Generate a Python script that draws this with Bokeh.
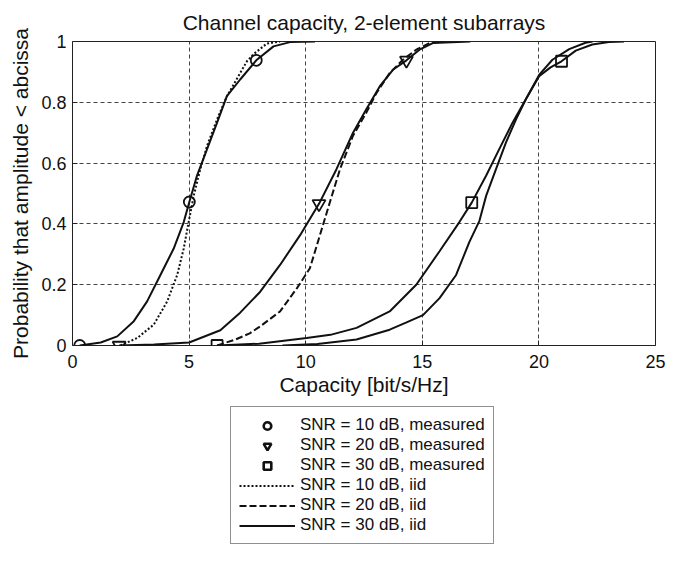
from bokeh.plotting import figure
from bokeh.layouts import column
from bokeh.models import Range1d, Legend, LegendItem, FixedTicker
from bokeh.embed import file_html
from bokeh.resources import INLINE

# ---------------- data ----------------
meas10_x = [0.31, 1.21, 1.92, 2.63, 3.2, 3.77, 4.34, 4.77, 5.01, 5.34, 5.77, 6.2, 6.62, 7.19, 7.88, 8.62, 9.33, 10.4]
meas10_y = [0.0, 0.01, 0.03, 0.08, 0.145, 0.232, 0.319, 0.406, 0.472, 0.559, 0.646, 0.733, 0.82, 0.875, 0.938, 0.984, 0.998, 1.0]

meas20_x = [2.0, 3.5, 5.0, 6.34, 7.19, 8.05, 8.9, 9.76, 10.57, 11.32, 12.03, 12.6, 13.18, 13.74, 14.32, 14.88, 15.45, 17.06]
meas20_y = [0.0, 0.003, 0.01, 0.05, 0.108, 0.177, 0.265, 0.363, 0.466, 0.58, 0.70, 0.777, 0.853, 0.907, 0.938, 0.973, 0.995, 1.0]

meas30_x = [6.2, 8.0, 10.04, 11.06, 12.18, 13.6, 14.74, 15.74, 16.59, 17.12, 17.74, 18.3, 18.87, 19.44, 20.01, 20.5, 20.97, 21.58, 22.29, 23.0, 23.65]
meas30_y = [0.0, 0.006, 0.025, 0.035, 0.058, 0.112, 0.2, 0.31, 0.406, 0.47, 0.559, 0.646, 0.733, 0.81, 0.886, 0.915, 0.935, 0.97, 0.99, 0.998, 1.0]

iid10_x = [2.06, 2.78, 3.49, 4.06, 4.49, 4.77, 4.98, 5.2, 5.48, 5.77, 6.2, 6.62, 7.19, 7.48, 7.76, 8.33, 8.9]
iid10_y = [0.0, 0.025, 0.069, 0.145, 0.232, 0.319, 0.406, 0.493, 0.58, 0.657, 0.744, 0.82, 0.896, 0.935, 0.958, 0.993, 1.0]

iid20_x = [6.2, 7.0, 7.6, 8.05, 8.9, 9.62, 10.18, 10.61, 11.04, 11.47, 12.03, 12.6, 13.03, 13.6, 14.17, 14.74, 15.31, 15.9]
iid20_y = [0.0, 0.02, 0.04, 0.063, 0.112, 0.188, 0.254, 0.363, 0.472, 0.58, 0.69, 0.766, 0.83, 0.896, 0.94, 0.973, 0.995, 1.0]

iid30_x = [9.0, 10.5, 12.18, 13.6, 14.3, 15.03, 15.74, 16.45, 17.02, 17.45, 17.74, 18.16, 18.59, 19.02, 19.44, 20.01, 20.58, 21.3, 22.0, 22.3]
iid30_y = [0.0, 0.005, 0.02, 0.052, 0.075, 0.1, 0.156, 0.232, 0.341, 0.41, 0.493, 0.58, 0.668, 0.744, 0.81, 0.89, 0.94, 0.975, 0.996, 1.0]

mark10_x = [0.31, 5.01, 7.88]
mark10_y = [0.0, 0.472, 0.938]
mark20_x = [2.0, 10.57, 14.32]
mark20_y = [0.0, 0.466, 0.938]
mark30_x = [6.2, 17.12, 20.97]
mark30_y = [0.0, 0.47, 0.935]

x_ticks = [0, 5, 10, 15, 20, 25]
y_ticks = [0, 0.2, 0.4, 0.6, 0.8, 1]
y_tick_labels = ["0", "0.2", "0.4", "0.6", "0.8", "1"]

labels = ["SNR = 10 dB, measured", "SNR = 20 dB, measured", "SNR = 30 dB, measured",
          "SNR = 10 dB, iid", "SNR = 20 dB, iid", "SNR = 30 dB, iid"]

# ---------------- styles ----------------
FONT = "Liberation Sans"
INK = "#111111"
LW = 2
DOT = "2 2"
DASH = "7 3"
MARK = dict(line_color=INK, line_width=1.8, fill_alpha=0)
LMARK = dict(line_color=INK, line_width=2.6, fill_alpha=0)

# ---------------- main figure ----------------
p = figure(frame_width=583, frame_height=304,
           min_border_left=72, min_border_right=20, min_border_top=41, min_border_bottom=50,
           x_range=Range1d(0, 25), y_range=Range1d(0, 1),
           output_backend="svg", toolbar_location=None,
           title="Channel capacity, 2-element subarrays")

p.title.align = "center"
p.title.text_font = FONT
p.title.text_font_size = "21px"
p.title.text_font_style = "normal"
p.title.text_color = INK
p.title.standoff = 16

p.outline_line_color = "#222222"
p.outline_line_width = 1

for ax in (p.xaxis[0], p.yaxis[0]):
    ax.axis_line_color = None
    ax.major_tick_in = 5
    ax.major_tick_out = 0
    ax.minor_tick_line_color = None
    ax.major_tick_line_color = "#222222"
    ax.major_label_text_font = FONT
    ax.major_label_text_font_size = "18px"
    ax.major_label_text_color = INK
    ax.axis_label_text_font = FONT
    ax.axis_label_text_font_size = "21px"
    ax.axis_label_text_font_style = "normal"
    ax.axis_label_text_color = INK

p.xaxis.ticker = FixedTicker(ticks=x_ticks)
p.yaxis.ticker = FixedTicker(ticks=y_ticks)
p.yaxis.major_label_overrides = {t: s for t, s in zip(y_ticks, y_tick_labels)}
p.xaxis.axis_label = "Capacity [bit/s/Hz]"
p.yaxis.axis_label = "Probability that amplitude < abcissa"
p.xaxis.major_label_standoff = 9
p.yaxis.major_label_standoff = 6
p.xaxis.axis_label_standoff = 2
p.yaxis.axis_label_standoff = 6

for g in (p.xgrid[0], p.ygrid[0]):
    g.grid_line_color = "#444444"
    g.grid_line_dash = "4 3"
    g.grid_line_width = 1

# measured curves (solid lines; markers go in the legend)
p.line(meas10_x, meas10_y, line_color=INK, line_width=LW)
p.line(meas20_x, meas20_y, line_color=INK, line_width=LW)
p.line(meas30_x, meas30_y, line_color=INK, line_width=LW)

# iid curves
p.line(iid10_x, iid10_y, line_color=INK, line_width=LW, line_dash=DOT)
p.line(iid20_x, iid20_y, line_color=INK, line_width=LW, line_dash=DASH)
p.line(iid30_x, iid30_y, line_color=INK, line_width=LW)

p.scatter(mark10_x, mark10_y, marker="circle", size=11, **MARK)
p.scatter(mark20_x, mark20_y, marker="inverted_triangle", size=13, **MARK)
p.scatter(mark30_x, mark30_y, marker="square", size=11, **MARK)

# ---------------- legend panel (below the plot) ----------------
# the same series are drawn here outside the visible range, only to feed the legend
q = figure(width=675, height=150, min_border=0,
           x_range=Range1d(100, 101), y_range=Range1d(100, 101),
           output_backend="svg", toolbar_location=None)
q.axis.visible = False
q.grid.visible = False
q.outline_line_color = None

lg_m10 = q.scatter(mark10_x, mark10_y, marker="circle", size=9, **LMARK)
lg_m20 = q.scatter(mark20_x, mark20_y, marker="inverted_triangle", size=11, **LMARK)
lg_m30 = q.scatter(mark30_x, mark30_y, marker="square", size=9, **LMARK)
lg_i10 = q.line(iid10_x, iid10_y, line_color=INK, line_width=LW, line_dash=DOT)
lg_i20 = q.line(iid20_x, iid20_y, line_color=INK, line_width=LW, line_dash=DASH)
lg_i30 = q.line(iid30_x, iid30_y, line_color=INK, line_width=LW)

legend = Legend(items=[
    LegendItem(label=labels[0], renderers=[lg_m10]),
    LegendItem(label=labels[1], renderers=[lg_m20]),
    LegendItem(label=labels[2], renderers=[lg_m30]),
    LegendItem(label=labels[3], renderers=[lg_i10]),
    LegendItem(label=labels[4], renderers=[lg_i20]),
    LegendItem(label=labels[5], renderers=[lg_i30]),
])
legend.location = (158, 4)
legend.label_text_font = FONT
legend.label_text_font_size = "17px"
legend.label_text_color = INK
legend.label_height = 19
legend.glyph_height = 19
legend.glyph_width = 56
legend.label_standoff = 5
legend.spacing = 0
legend.padding = 8
legend.margin = 0
legend.border_line_color = "#222222"
legend.border_line_width = 1
legend.background_fill_color = "white"
legend.background_fill_alpha = 1
q.add_layout(legend)

layout = column(p, q, spacing=0)
open("out.html", "w").write(file_html(layout, INLINE))
